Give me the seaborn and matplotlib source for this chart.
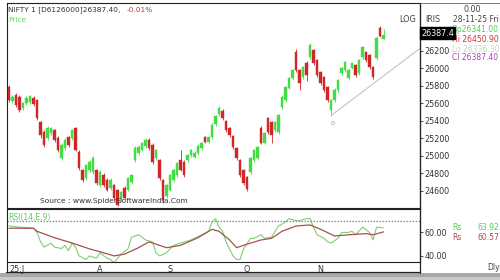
import numpy as np
import pandas as pd
import matplotlib
matplotlib.use("Agg")
import matplotlib.pyplot as plt
import seaborn as sns
from matplotlib.lines import Line2D
from matplotlib.patches import Rectangle

# ---------------- data ----------------
opens = [25783, 25623, 25691, 25669, 25543, 25600, 25611, 25657, 25634, 25383,
         25269, 25200, 25257, 25291, 25200, 24971, 25086, 25211, 25200, 25314,
         25040, 24834, 24743, 24834, 24811, 24834, 24663, 24777, 24720, 24629,
         24663, 24606, 24491, 24629, 24606, 24697, 24949, 25029, 25063, 25109,
         25177, 25120, 24971, 24949, 24720, 24537, 24606, 24720, 24777, 24949,
         24926, 24949, 25006, 24983, 25029, 25086, 25211, 25154, 25211, 25360,
         25475, 25509, 25394, 25314, 25223, 25086, 24949, 24834, 24754, 24811,
         24949, 24971, 25314, 25143, 25429, 25383, 25291, 25269, 25554, 25634,
         25771, 25886, 26183, 25977, 25897, 26057, 26126, 26206, 26091, 25954,
         25897, 25783, 25520, 25634, 25749, 25943, 25977, 25886, 26000, 26034,
         25943, 26126, 26183, 26149, 26011, 26114, 26469, 26341]
closes = [25634, 25669, 25577, 25520, 25600, 25657, 25680, 25589, 25429, 25234,
          25120, 25314, 25314, 25177, 25063, 25120, 25177, 25120, 25291, 25063,
          24857, 24720, 24891, 24926, 24971, 24686, 24811, 24663, 24606, 24720,
          24514, 24434, 24583, 24514, 24743, 24777, 25086, 25097, 25143, 25177,
          25086, 24926, 25063, 24743, 24491, 24663, 24777, 24834, 24914, 24834,
          24777, 25006, 25063, 25029, 25109, 25143, 25154, 25211, 25349, 25452,
          25543, 25429, 25291, 25234, 25097, 24971, 24777, 24686, 24617, 24971,
          25063, 25097, 25143, 25257, 25269, 25234, 25383, 25463, 25669, 25783,
          25886, 25977, 25977, 25829, 26011, 25920, 26263, 26057, 25920, 25829,
          25749, 25634, 25634, 25749, 25863, 26000, 26069, 25977, 26057, 25920,
          26091, 26240, 26091, 26011, 25897, 26354, 26377, 26387]
highs = [25810, 25700, 25720, 25690, 25620, 25680, 25700, 25680, 25650, 25400,
         25290, 25340, 25330, 25310, 25220, 25140, 25200, 25230, 25310, 25330,
         25060, 24850, 24910, 24950, 25000, 24850, 24830, 24800, 24740, 24740,
         24680, 24620, 24600, 24650, 24760, 24790, 25110, 25120, 25160, 25200,
         25200, 25140, 25080, 24960, 24730, 24680, 24790, 24850, 24930, 25063,
         24950, 25020, 25080, 25050, 25130, 25160, 25230, 25230, 25370, 25470,
         25570, 25530, 25410, 25330, 25240, 25100, 24960, 24850, 24770, 24990,
         25080, 25110, 25340, 25270, 25440, 25400, 25400, 25480, 25690, 25800,
         25900, 25990, 26220, 25990, 26030, 26080, 26290, 26220, 26110, 25970,
         25910, 25800, 25650, 25770, 25880, 26020, 26090, 26000, 26070, 26050,
         26110, 26260, 26200, 26170, 26030, 26370, 26491, 26450]
lows = [25610, 25600, 25560, 25500, 25520, 25580, 25590, 25570, 25410, 25200,
        25100, 25180, 25240, 25160, 25040, 24950, 25070, 25100, 25180, 25050,
        24840, 24700, 24720, 24810, 24790, 24660, 24640, 24640, 24590, 24610,
        24490, 24420, 24470, 24500, 24590, 24680, 24930, 25010, 25050, 25090,
        25070, 24900, 24950, 24720, 24460, 24510, 24590, 24700, 24760, 24820,
        24760, 24930, 24990, 24970, 25010, 25070, 25140, 25140, 25190, 25340,
        25460, 25410, 25270, 25210, 25080, 24950, 24760, 24660, 24590, 24790,
        24930, 24950, 25130, 25130, 25250, 25150, 25270, 25250, 25540, 25620,
        25760, 25870, 25960, 25750, 25880, 25860, 26110, 26040, 25900, 25810,
        25730, 25610, 25460, 25620, 25730, 25930, 25960, 25870, 25990, 25900,
        25930, 26110, 26070, 25990, 25880, 26100, 26360, 26336]

month_pos = [0, 26, 46, 68, 89]
month_labels = ["25:J", "A", "S", "O", "N"]

price_ticks = [26200, 26000, 25800, 25600, 25400, 25200, 25000, 24800, 24600]

rsi_idx = [0, 2, 7, 8, 9, 10, 12, 13, 15, 16, 17, 18, 19, 20, 22, 23, 25, 26, 28, 29,
           30, 31, 32, 34, 35, 37, 38, 39, 41, 42, 43, 45, 46, 47, 49, 52, 55, 57, 58, 59,
           60, 61, 62, 64, 65, 66, 67, 69, 70, 72, 73, 75, 76, 77, 79, 80, 82, 83, 85, 86,
           87, 88, 90, 91, 92, 94, 95, 97, 98, 99, 101, 103, 104, 105, 107]
rsi_val = [65.7, 64.8, 63.6, 60, 52, 47.5, 50.9, 47.5, 46.3, 49, 44.5, 50.9, 47.5, 40, 37, 40, 38, 42.7, 38, 37,
           34, 38, 41.5, 46, 56, 58, 56, 53.6, 52, 42.7, 40, 42.7, 46, 49, 51, 53.6, 58, 61, 69, 71.8,
           64.5, 61, 52, 40, 37, 37, 46, 55, 55, 58, 55, 56, 61, 65.5, 69, 71.8, 70, 70, 71.8, 71.8,
           64.5, 58, 55, 52, 51, 55, 60, 60, 61, 58, 64.5, 60, 53.6, 64.5, 63.9]

sig_idx = [0, 7, 8, 13, 18, 23, 27, 30, 33, 37, 40, 43, 45, 49, 54, 58, 60, 63, 65, 68,
           72, 75, 78, 82, 86, 89, 93, 97, 102, 104, 107]
sig_val = [63.6, 63.6, 61, 55.5, 51, 46, 42.7, 40, 41.5, 47, 52, 49, 47, 49, 55.5, 62.7, 61, 53.6, 47, 50,
           53.6, 55, 61, 65.5, 66.4, 62.7, 57, 58, 59, 58, 60.5]

trend_idx = [92, 117.4]
trend_val = [25460, 26230]

# ---------------- figure ----------------
sns.set_style("white")
plt.rcParams['font.family'] = ['DejaVu Sans']

W, H = 500, 280
def fx(x): return x / W
def fy(y): return 1 - y / H

fig = plt.figure(figsize=(5, 2.8), dpi=100)
fig.patch.set_facecolor("white")

# bottom shadow
fig.add_artist(Rectangle((0, 0), 1, fy(273), transform=fig.transFigure,
                         facecolor="#a8a8a8", edgecolor="none", zorder=0))
fig.add_artist(Rectangle((0, 0), 1, fy(277), transform=fig.transFigure,
                         facecolor="#c8c8c8", edgecolor="none", zorder=0))

UP, DN = "#44dc44", "#d02828"
x = np.arange(len(opens))
o = np.array(opens); c = np.array(closes)
cols = [UP if cc >= oo else DN for oo, cc in zip(o, c)]

ax_p = fig.add_axes([fx(7), fy(208), fx(413), (208 - 3) / H])
ax_p.vlines(x, lows, highs, colors=cols, linewidth=0.6, zorder=2)
ax_p.bar(x, np.abs(c - o), bottom=np.minimum(o, c), width=0.7, color=cols,
         edgecolor=cols, linewidth=0.3, zorder=3)
sns.lineplot(x=trend_idx, y=trend_val, ax=ax_p, color="#c4c4c4", linewidth=0.8)
ax_p.text(trend_idx[0] + 0.3, trend_val[0] - 60, "0", fontsize=4.5, color="#999999",
          ha="center", va="top")
ax_p.set_xlim(-0.57, 117.4)
ax_p.set_ylim(24400, 26750)
ax_p.yaxis.tick_right()
ax_p.set_yticks(price_ticks)
ax_p.set_yticklabels([str(t) for t in price_ticks])
ax_p.tick_params(axis="y", labelsize=5.8, colors="#333333", length=2, width=0.6, pad=1, right=True)
ax_p.set_xticks([])
for s in ax_p.spines.values():
    s.set_color("#222222"); s.set_linewidth(0.8)

ax_p.text(33 / 413, 7 / 205, "Source : www.SpiderSoftwareIndia.Com", transform=ax_p.transAxes,
          fontsize=5.4, color="#333333", va="center", ha="left")

# RSI panel
ax_r = fig.add_axes([fx(7), fy(262), fx(413), (262 - 209) / H])
sns.lineplot(x=rsi_idx, y=rsi_val, ax=ax_r, color="#7ccf74", linewidth=0.8)
sns.lineplot(x=sig_idx, y=sig_val, ax=ax_r, color="#a85050", linewidth=0.9)
ax_r.axhline(70, color="#8a8a8a", linestyle=(0, (1.2, 1.2)), linewidth=0.9)
ax_r.set_xlim(-0.57, 117.4)
ax_r.set_ylim(34.8, 80)
ax_r.yaxis.tick_right()
ax_r.set_yticks([60, 40])
ax_r.set_yticklabels(["60.00", "40.00"])
ax_r.tick_params(axis="y", labelsize=5.8, colors="#333333", length=2, width=0.6, pad=1, right=True)
ax_r.set_xticks(month_pos)
ax_r.set_xticklabels(month_labels)
ax_r.tick_params(axis="x", labelsize=5.8, colors="#333333", length=0, pad=2.5)
for lbl in ax_r.get_xticklabels():
    if lbl.get_text() == "25:J":
        lbl.set_horizontalalignment("left")
for s in ax_r.spines.values():
    s.set_color("#222222"); s.set_linewidth(0.8)
ax_r.text(0.004, 0.93, "RSI(14,E,9)", transform=ax_r.transAxes, fontsize=5.5,
          color="#5fc95f", va="top", ha="left")

# frame lines
fig.add_artist(Line2D([fx(6), fx(420)], [fy(272), fy(272)], transform=fig.transFigure,
                      color="#222222", linewidth=0.9))
fig.add_artist(Line2D([fx(6.5), fx(6.5)], [fy(262), fy(272)], transform=fig.transFigure,
                      color="#222222", linewidth=0.8))
fig.add_artist(Line2D([fx(420), fx(420)], [fy(3), fy(273)], transform=fig.transFigure,
                      color="#222222", linewidth=0.9))
fig.add_artist(Line2D([fx(420), 1], [fy(3), fy(3)], transform=fig.transFigure,
                      color="#666666", linewidth=0.6))

# header texts
fig.text(fx(8), fy(10), "NIFTY 1 [D6126000]26387.40,", fontsize=5.3, color="#333333", va="center")
fig.text(fx(127), fy(10), "-0.01%", fontsize=5.3, color="#cc3333", va="center")
fig.text(fx(8), fy(20), "Price", fontsize=5.3, color="#55dd55", va="center")
fig.text(fx(416), fy(19), "LOG", fontsize=5.8, color="#444444", va="center", ha="right")
fig.text(fx(425), fy(19), "IRIS", fontsize=5.8, color="#444444", va="center")
fig.text(fx(472), fy(9), "0.00", fontsize=5.8, color="#444444", va="center", ha="center")
fig.text(fx(453), fy(19.5), "28-11-25 Fri", fontsize=5.5, color="#444444", va="center")
fig.text(fx(452), fy(29.5), "Op26341.00", fontsize=5.5, color="#55cc55", va="center")
fig.text(fx(452), fy(39.5), "Hi 26450.90", fontsize=5.5, color="#cc3333", va="center")
fig.text(fx(452), fy(49), "Lo 26336.30", fontsize=5.5, color="#cfcfcf", va="center")
fig.text(fx(452), fy(58), "Cl 26387.40", fontsize=5.5, color="#b040c0", va="center")
fig.text(fx(421.5), fy(33), "26387.4", fontsize=5.8, color="white", va="center",
         bbox=dict(boxstyle="square,pad=0.15", facecolor="black", edgecolor="black"))

fig.text(fx(452), fy(228), "Rs", fontsize=5.5, color="#55cc55", va="center")
fig.text(fx(477), fy(228), "63.92", fontsize=5.5, color="#55cc55", va="center")
fig.text(fx(452), fy(237), "Rs", fontsize=5.5, color="#b04848", va="center")
fig.text(fx(477), fy(237), "60.57", fontsize=5.5, color="#b04848", va="center")
fig.text(fx(487), fy(268), "Dly", fontsize=5.5, color="#444444", va="center")

fig.savefig("out.png", dpi=100, facecolor="white")
